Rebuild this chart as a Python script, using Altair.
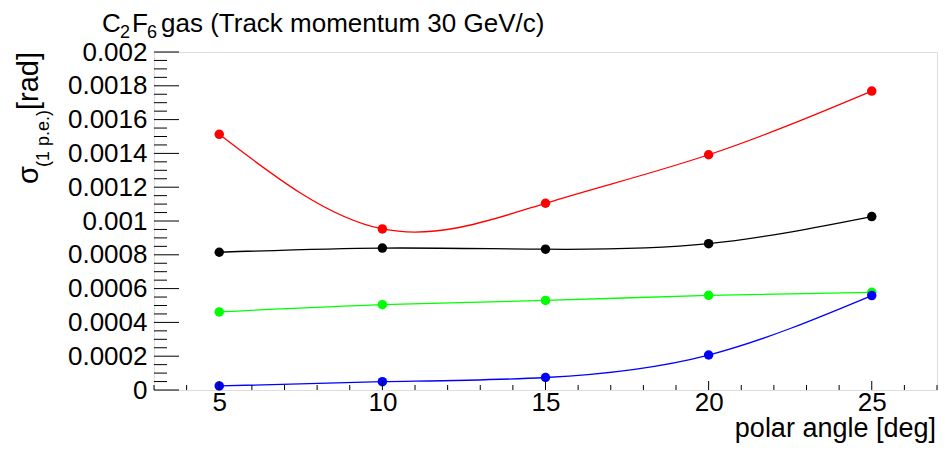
import altair as alt
import pandas as pd

# ---- data ----
angles = [5, 10, 15, 20, 25]
red_vals = [0.001513, 0.000953, 0.001105, 0.001392, 0.001769]
black_vals = [0.000815, 0.000840, 0.000833, 0.000866, 0.001026]
green_vals = [0.000462, 0.000505, 0.000530, 0.000560, 0.000578]
blue_vals = [0.000024, 0.000049, 0.000074, 0.000207, 0.000559]

series_names = ["red", "black", "green", "blue"]
series_colors = ["#ff0000", "#000000", "#00ff00", "#0000ff"]

x_major = [5, 10, 15, 20, 25]
x_minor = [3, 4, 6, 7, 8, 9, 11, 12, 13, 14, 16, 17, 18, 19, 21, 22, 23, 24, 26, 27]
y_major = [0, 0.0002, 0.0004, 0.0006, 0.0008, 0.001, 0.0012, 0.0014, 0.0016, 0.0018, 0.002]
y_minor = [i * 0.00005 for i in range(41) if i % 4 != 0]

title_parts = ["C", "2", "F", "6", "gas (Track momentum 30 GeV/c)"]
x_title = "polar angle [deg]"
y_title_parts = ["σ", "(1 p.e.)", "[rad]"]

FONT = "Liberation Sans"
W, H = 783, 338

rows = []
for name, vals in zip(series_names, [red_vals, black_vals, green_vals, blue_vals]):
    for a, v in zip(angles, vals):
        rows.append({"angle": a, "sigma": v, "series": name})
df = pd.DataFrame(rows)

xscale = alt.Scale(domain=[3, 27], nice=False, zero=False)
yscale = alt.Scale(domain=[0, 0.002], nice=False)
cscale = alt.Scale(domain=series_names, range=series_colors)

xaxis = alt.Axis(values=x_major, ticks=False, domain=False, grid=False, title=None,
                 labelFont=FONT, labelFontSize=26, labelColor="black",
                 labelBaseline="middle", labelPadding=12)
yaxis = alt.Axis(values=y_major, ticks=False, domain=False, grid=False, title=None,
                 labelFont=FONT, labelFontSize=26, labelColor="black", labelPadding=7,
                 labelExpr="datum.value == 0 ? '0' : format(datum.value, '~g')")

base = alt.Chart(df)
lines = base.mark_line(interpolate="natural", strokeWidth=1.3).encode(
    x=alt.X("angle:Q", scale=xscale, axis=xaxis),
    y=alt.Y("sigma:Q", scale=yscale, axis=yaxis),
    color=alt.Color("series:N", scale=cscale, legend=None),
    detail="series:N",
)
points = base.mark_circle(size=90, opacity=1).encode(
    x=alt.X("angle:Q", scale=xscale, axis=xaxis),
    y=alt.Y("sigma:Q", scale=yscale, axis=yaxis),
    color=alt.Color("series:N", scale=cscale, legend=None),
)


def yticks(vals, length):
    return alt.Chart(pd.DataFrame({"v": vals})).mark_rule(color="black", strokeWidth=1).encode(
        y=alt.Y("v:Q", scale=yscale, axis=yaxis), x=alt.value(0), x2=alt.value(length))


def xticks(vals, length):
    return alt.Chart(pd.DataFrame({"v": vals})).mark_rule(color="black", strokeWidth=1).encode(
        x=alt.X("v:Q", scale=xscale, axis=xaxis), y=alt.value(H), y2=alt.value(H - length))


one = pd.DataFrame({"k": [0]})


def txt(s, x, y, size=26, angle=0, align="left", baseline="alphabetic"):
    return alt.Chart(one).mark_text(text=s, font=FONT, fontSize=size, angle=angle,
                                    align=align, baseline=baseline, color="black").encode(
        x=alt.value(x), y=alt.value(y))


texts = [
    txt(title_parts[0], -52, -20, size=26),
    txt(title_parts[1], -34, -14, size=18),
    txt(title_parts[2], -22, -20, size=26),
    txt(title_parts[3], -7, -14, size=18),
    txt(title_parts[4], 7, -20, size=26),
    txt(x_title, W - 1, 385, size=27, align="right"),
    txt(y_title_parts[2], -116, 0, size=29, angle=270, align="right"),
    txt(y_title_parts[1], -105, 58, size=18, angle=270, align="right"),
    txt(y_title_parts[0], -116, 114, size=29, angle=270, align="right"),
]

chart = alt.layer(
    lines, points,
    yticks(y_major, 25), yticks(y_minor, 13),
    xticks(x_major, 9), xticks(x_minor, 5),
    *texts,
).properties(
    width=W, height=H,
    autosize=alt.AutoSizeParams(type="none"),
    padding={"left": 146, "top": 44, "right": 6, "bottom": 53},
).configure_view(stroke="black", strokeWidth=1.2).configure(background="white")

chart.save("out.html", embed_options={"renderer": "svg", "actions": False})
